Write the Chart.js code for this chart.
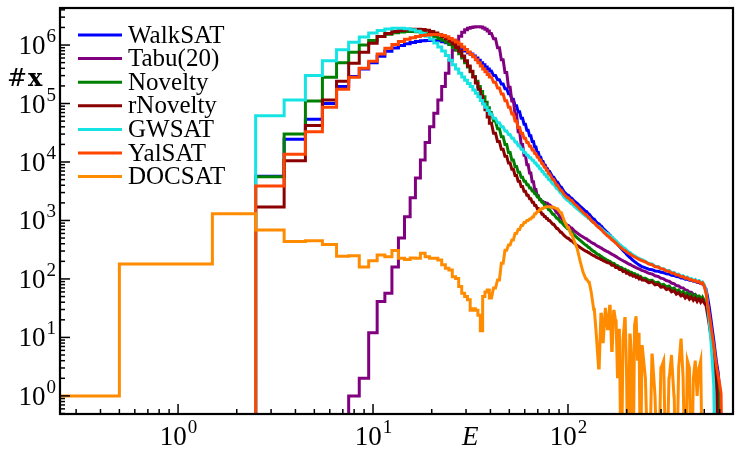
<!DOCTYPE html>
<html>
<head>
<meta charset="utf-8">
<script src="https://cdn.jsdelivr.net/npm/chart.js@4.4.0/dist/chart.umd.min.js"></script>
<style>
  html, body { margin: 0; padding: 0; background: #fff; }
  #wrap { width: 742px; height: 459px; position: relative; }
</style>
</head>
<body>
<div id="wrap"><canvas id="histChart"></canvas></div>
<script>
// Energy histograms (#x vs E) for seven SAT solvers, log-log, step style

// bin centres (E); unit bins up to 40, then sampled coarser
const energies = [
    0, 1, 2, 3, 4, 5, 6, 7, 8, 9,
    10, 11, 12, 13, 14, 15, 16, 17, 18, 19,
    20, 21, 22, 23, 24, 25, 26, 27, 28, 29,
    30, 31, 32, 33, 34, 35, 36, 37, 38, 39, 40,
    42, 44, 46, 48, 50, 52, 54, 56, 58, 60,
    62, 64, 66, 68, 70, 72, 74, 76, 78, 80,
    84, 88, 92, 96, 100, 104, 108, 112, 116, 120,
    124, 128, 132, 136, 140, 144, 148, 152, 156, 160,
    164, 168, 172, 176, 180, 184, 188, 192, 196, 200,
    204, 208, 212, 216, 220, 224, 228, 232, 236, 240,
    250, 260, 270, 280, 290, 300, 310, 320, 330, 340,
    350, 360, 370, 380, 390, 400, 410, 420, 430, 440,
    450, 460, 470, 480, 490, 500, 510, 520, 530, 540,
    550, 560, 570, 580, 590, 600, 610, 620
];

const walksat = [
    0, 0, 0, 5700, 24500, 54000, 100000, 195000, 290000, 390000,
    500000, 640000, 780000, 890000, 980000, 1050000, 1110000, 1150000, 1180000, 1200000,
    1210000, 1200000, 1180000, 1140000, 1090000, 1040000, 1000000, 950000, 900000, 840000,
    790000, 740000, 700000, 650000, 600000, 550000, 500000, 460000, 420000, 390000, 360000,
    300000, 255000, 215000, 178000, 147000, 118000, 92000, 72000, 56000, 44000,
    35000, 28000, 22500, 18000, 14500, 12000, 10200, 8800, 7700, 6900,
    5500, 4500, 3700, 3100, 2700, 2400, 2150, 1950, 1750, 1580,
    1420, 1280, 1160, 1050, 950, 870, 800, 730, 670, 610,
    560, 510, 465, 425, 390, 360, 332, 306, 285, 265,
    248, 233, 220, 208, 198, 189, 181, 174, 168, 162,
    154, 147, 144, 137, 135, 130, 128, 122, 121, 116,
    115, 110, 109, 104, 104, 99, 99, 95, 95, 91,
    91, 87, 87, 83, 82, 77, 66, 50, 34, 22,
    14, 9, 5.5, 3.5, 2.5, 1.2, 0, 0
];

const tabu20 = [
    0, 0, 0, 0, 0, 0, 0, 0, 1, 2,
    12, 41, 57, 160, 500, 1160, 2450, 5300, 10800, 21500,
    40000, 68000, 115000, 195000, 330000, 550000, 820000, 1120000, 1420000, 1650000,
    1820000, 1930000, 2000000, 2040000, 2060000, 2060000, 2030000, 1960000, 1860000, 1730000, 1580000,
    1280000, 900000, 560000, 340000, 190000, 110000, 66000, 33000, 20000, 13000,
    9000, 6500, 4600, 3400, 2650, 2250, 2100, 2030, 1960, 1860,
    1650, 1350, 1100, 930, 820, 740, 670, 610, 560, 520,
    485, 452, 423, 398, 375, 355, 337, 320, 305, 291,
    278, 265, 253, 242, 232, 222, 213, 205, 197, 190,
    183, 177, 171, 166, 161, 156, 152, 148, 144, 140,
    133, 125, 121, 113, 110, 103, 100, 94, 91, 85,
    83, 77, 76, 71, 70, 65, 64, 59, 59, 54,
    54, 50, 50, 46, 46, 43, 38, 29, 20, 13,
    9, 6, 3.5, 2, 1, 0, 0, 0
];

const novelty = [
    0, 0, 0, 5600, 30000, 110000, 280000, 500000, 750000, 1000000,
    1200000, 1400000, 1530000, 1620000, 1670000, 1700000, 1700000, 1680000, 1630000, 1560000,
    1480000, 1390000, 1300000, 1210000, 1120000, 1020000, 920000, 820000, 710000, 600000,
    500000, 420000, 350000, 290000, 240000, 195000, 160000, 130000, 105000, 85000, 70000,
    50000, 37000, 27000, 20000, 14500, 10800, 8400, 6700, 5500, 4700,
    4100, 3600, 3200, 2850, 2550, 2280, 2050, 1850, 1680, 1520,
    1280, 1090, 940, 820, 720, 635, 565, 505, 455, 412,
    375, 345, 318, 295, 275, 258, 243, 230, 218, 207,
    199, 187, 183, 172, 169, 159, 157, 148, 147, 138,
    138, 130, 130, 122, 123, 116, 117, 110, 111, 104,
    103, 94, 95, 86, 88, 79, 81, 73, 76, 67,
    70, 62, 65, 57, 61, 53, 58, 51, 55, 48,
    53, 46, 51, 44, 49, 43, 40, 32, 22, 14,
    10, 7, 4, 2, 1, 0, 0, 0
];

const rNovelty = [
    0, 0, 0, 1700, 10500, 42000, 115000, 240000, 490000, 750000,
    1070000, 1400000, 1580000, 1700000, 1780000, 1830000, 1860000, 1860000, 1840000, 1790000,
    1710000, 1610000, 1500000, 1390000, 1280000, 1160000, 1040000, 910000, 780000, 650000,
    540000, 440000, 355000, 285000, 225000, 175000, 135000, 103000, 78000, 59000, 46000,
    31000, 22500, 16500, 12500, 9600, 7500, 5900, 4700, 3800, 3150,
    2700, 2350, 2050, 1800, 1600, 1420, 1280, 1170, 1080, 1000,
    860, 730, 630, 555, 495, 450, 410, 375, 345, 320,
    298, 280, 263, 248, 236, 225, 215, 206, 198, 190,
    185, 172, 171, 157, 158, 145, 146, 134, 136, 125,
    127, 117, 120, 111, 114, 106, 109, 100, 104, 96,
    95, 86, 89, 79, 81, 72, 74, 66, 68, 60,
    63, 55, 58, 51, 54, 47, 51, 45, 49, 43,
    47, 41, 46, 40, 44, 39, 35, 25, 17, 11,
    7, 4.5, 2.5, 1.2, 0, 0, 0, 0
];

const gwsat = [
    0, 0, 0, 62000, 115000, 300000, 540000, 830000, 1120000, 1370000,
    1600000, 1780000, 1880000, 1930000, 1930000, 1900000, 1830000, 1720000, 1580000, 1420000,
    1250000, 1080000, 930000, 790000, 660000, 550000, 460000, 390000, 330000, 285000,
    250000, 220000, 195000, 170000, 150000, 130000, 113000, 98000, 86000, 76000, 67000,
    56000, 47000, 40000, 34000, 29500, 25500, 22000, 19000, 16500, 14500,
    13000, 11800, 10700, 9600, 8600, 7700, 6900, 6200, 5600, 5000,
    4200, 3500, 2950, 2500, 2200, 1950, 1750, 1580, 1430, 1300,
    1180, 1080, 990, 910, 840, 780, 725, 675, 630, 590,
    550, 515, 480, 450, 420, 395, 370, 350, 330, 312,
    296, 282, 270, 258, 248, 240, 232, 225, 218, 212,
    201, 184, 180, 165, 163, 150, 150, 138, 139, 128,
    129, 119, 121, 111, 114, 105, 108, 99, 102, 94,
    98, 90, 94, 86, 89, 80, 62, 38, 20, 10,
    4, 1.5, 0, 0, 0, 0, 0, 0
];

const yalsat = [
    0, 0, 0, 3900, 13500, 33000, 86000, 175000, 280000, 400000,
    530000, 700000, 880000, 1020000, 1150000, 1250000, 1330000, 1400000, 1450000, 1490000,
    1520000, 1520000, 1500000, 1450000, 1380000, 1300000, 1220000, 1130000, 1030000, 930000,
    840000, 760000, 690000, 630000, 560000, 500000, 440000, 390000, 350000, 315000, 285000,
    230000, 185000, 145000, 112000, 86000, 66000, 50000, 39000, 31000, 25500,
    21500, 18500, 16000, 14000, 12200, 10700, 9300, 8200, 7200, 6300,
    5000, 4000, 3300, 2800, 2450, 2200, 1950, 1750, 1550, 1380,
    1250, 1120, 1000, 910, 830, 760, 700, 640, 590, 545,
    505, 470, 440, 410, 385, 360, 340, 320, 305, 290,
    278, 266, 256, 246, 238, 230, 223, 216, 210, 204,
    195, 180, 175, 162, 160, 149, 147, 137, 135, 126,
    125, 117, 117, 109, 110, 103, 104, 97, 98, 92,
    94, 88, 90, 84, 86, 76, 58, 38, 26, 17,
    11, 7, 4.5, 3, 2.2, 1.6, 1.1, 0
];

const docsat = [
    1, 180, 1300, 690, 435, 452, 390, 245, 250, 160,
    205, 257, 240, 305, 225, 215, 228, 226, 275, 240,
    226, 226, 210, 174, 152, 142, 109, 102, 74, 57,
    50, 44, 29, 31, 29, 24, 13, 50, 60, 65, 47,
    70, 96, 185, 310, 380, 465, 600, 700, 820, 920,
    1000, 1060, 1150, 1300, 1420, 1520, 1600, 1680, 1720, 1720,
    1680, 1580, 1350, 1000, 760, 580, 450, 330, 200, 130,
    100, 88, 60, 30, 12, 3, 25, 8, 32, 14,
    34, 6, 28, 19, 2, 14, 0, 9, 21, 3,
    0, 11, 5, 0, 16, 23, 4, 12, 0, 7,
    2, 0, 5, 1, 0, 3, 4, 0, 2, 5,
    1, 0, 3, 9, 2, 0, 4, 3, 0, 2,
    4, 1, 3, 4, 0, 0, 0, 0, 0, 0,
    0, 0, 0, 0, 0, 0, 0, 0
];

const solverNames = ['WalkSAT', 'Tabu(20)', 'Novelty', 'rNovelty', 'GWSAT', 'YalSAT', 'DOCSAT'];
const solverCounts = [walksat, tabu20, novelty, rNovelty, gwsat, yalsat, docsat];
const solverColors = ['#0000ff', '#800080', '#008000', '#8b0000', '#16e3e3', '#ff4500', '#ff8c00'];

const xTickValues = [1, 10, 100];
const yTickValues = [1, 10, 100, 1000, 10000, 100000, 1000000];

const serif = '"Liberation Serif", "DejaVu Serif", serif';
const EMPTY = 0.02; // empty bins fall below the axis

// each bin becomes a flat segment from E-0.5 to E+0.5
function toSteps(counts) {
    const pts = [];
    energies.forEach(function(e, i) {
        const n = counts[i] > 0 ? counts[i] : EMPTY;
        pts.push({ x: Math.max(e - 0.5, 0.1), y: n });
        pts.push({ x: e + 0.5, y: n });
    });
    return pts;
}

// "10" with a raised exponent; anchor is 'center' (x axis) or 'right' (y axis)
function drawPower(ctx, v, px, baseline, anchor) {
    const exp = String(Math.round(Math.log10(v)));
    ctx.font = '27px ' + serif;
    const wBase = ctx.measureText('10').width;
    ctx.font = '19px ' + serif;
    const wExp = ctx.measureText(exp).width;
    const left = anchor === 'center' ? px - (wBase + wExp) / 2 : px - wBase - wExp;
    ctx.textAlign = 'left';
    ctx.textBaseline = 'alphabetic';
    ctx.font = '27px ' + serif;
    ctx.fillText('10', left, baseline);
    ctx.font = '19px ' + serif;
    ctx.fillText(exp, left + wBase + 1, baseline - 12);
}

// frame, inward ticks, tick labels, legend and axis names
const decorPlugin = {
    id: 'decor',
    afterDraw: function(chart) {
        const ctx = chart.ctx;
        const a = chart.chartArea;
        const xs = chart.scales.x;
        const ys = chart.scales.y;
        ctx.save();
        ctx.strokeStyle = '#000';
        ctx.fillStyle = '#000';

        ctx.lineWidth = 1.5;
        for (let d = -1; d <= 2; d++) {
            for (let m = 1; m <= 9; m++) {
                const v = m * Math.pow(10, d);
                if (v < xs.min || v > xs.max) continue;
                const px = xs.getPixelForValue(v);
                ctx.beginPath();
                ctx.moveTo(px, a.bottom);
                ctx.lineTo(px, a.bottom - (m === 1 ? 10 : 5));
                ctx.stroke();
            }
        }
        for (let d = -1; d <= 6; d++) {
            for (let m = 1; m <= 9; m++) {
                const v = m * Math.pow(10, d);
                if (v < ys.min || v > ys.max) continue;
                const py = ys.getPixelForValue(v);
                ctx.beginPath();
                ctx.moveTo(a.left, py);
                ctx.lineTo(a.left + (m === 1 ? 10 : 5), py);
                ctx.stroke();
            }
        }

        ctx.lineWidth = 2.2;
        ctx.strokeRect(a.left, a.top, a.right - a.left, a.bottom - a.top);

        xTickValues.forEach(function(v) {
            drawPower(ctx, v, xs.getPixelForValue(v), a.bottom + 31, 'center');
        });
        yTickValues.forEach(function(v) {
            drawPower(ctx, v, a.left - 5, ys.getPixelForValue(v) + 9, 'right');
        });

        // legend
        ctx.textBaseline = 'middle';
        ctx.textAlign = 'left';
        ctx.font = '25px ' + serif;
        solverNames.forEach(function(name, i) {
            const ly = a.top + 27 + i * 23.6;
            ctx.strokeStyle = solverColors[i];
            ctx.lineWidth = 3;
            ctx.beginPath();
            ctx.moveTo(a.left + 18, ly);
            ctx.lineTo(a.left + 62, ly);
            ctx.stroke();
            ctx.fillText(name, a.left + 68, ly + 1);
        });

        // axis names
        ctx.font = '24px "DejaVu Serif", serif';
        const hy = ys.getPixelForValue(250000);
        ctx.fillText('#', 7, hy);
        const hw = ctx.measureText('#').width;
        ctx.font = 'bold 24px "DejaVu Serif", serif';
        ctx.fillText('x', 7 + hw + 1, hy);

        ctx.font = 'italic 27px ' + serif;
        ctx.textAlign = 'center';
        ctx.textBaseline = 'alphabetic';
        ctx.fillText('E', xs.getPixelForValue(31.5), a.bottom + 31);
        ctx.restore();
    }
};

new Chart(document.getElementById('histChart'), {
    type: 'line',
    data: {
        datasets: solverNames.map(function(name, i) {
            return {
                label: name,
                data: toSteps(solverCounts[i]),
                borderColor: solverColors[i],
                backgroundColor: solverColors[i],
                borderWidth: 3,
                pointRadius: 0,
                tension: 0,
                fill: false,
                order: solverNames.length - 1 - i
            };
        })
    },
    options: {
        responsive: true,
        maintainAspectRatio: false,
        animation: false,
        layout: { padding: { top: 8, right: 9, left: 0, bottom: 0 } },
        plugins: {
            legend: { display: false },
            tooltip: { enabled: false }
        },
        scales: {
            x: {
                type: 'logarithmic',
                min: 0.248,
                max: 702,
                afterBuildTicks: function(scale) {
                    scale.ticks = xTickValues.map(function(v) { return { value: v }; });
                },
                afterFit: function(scale) { scale.height = 45; },
                ticks: { display: false },
                grid: { display: false, drawTicks: false },
                border: { display: false }
            },
            y: {
                type: 'logarithmic',
                min: 0.49,
                max: 4.3e6,
                afterBuildTicks: function(scale) {
                    scale.ticks = yTickValues.map(function(v) { return { value: v }; });
                },
                afterFit: function(scale) { scale.width = 60; },
                ticks: { display: false },
                grid: { display: false, drawTicks: false },
                border: { display: false }
            }
        }
    },
    plugins: [decorPlugin]
});
</script>
</body>
</html>
